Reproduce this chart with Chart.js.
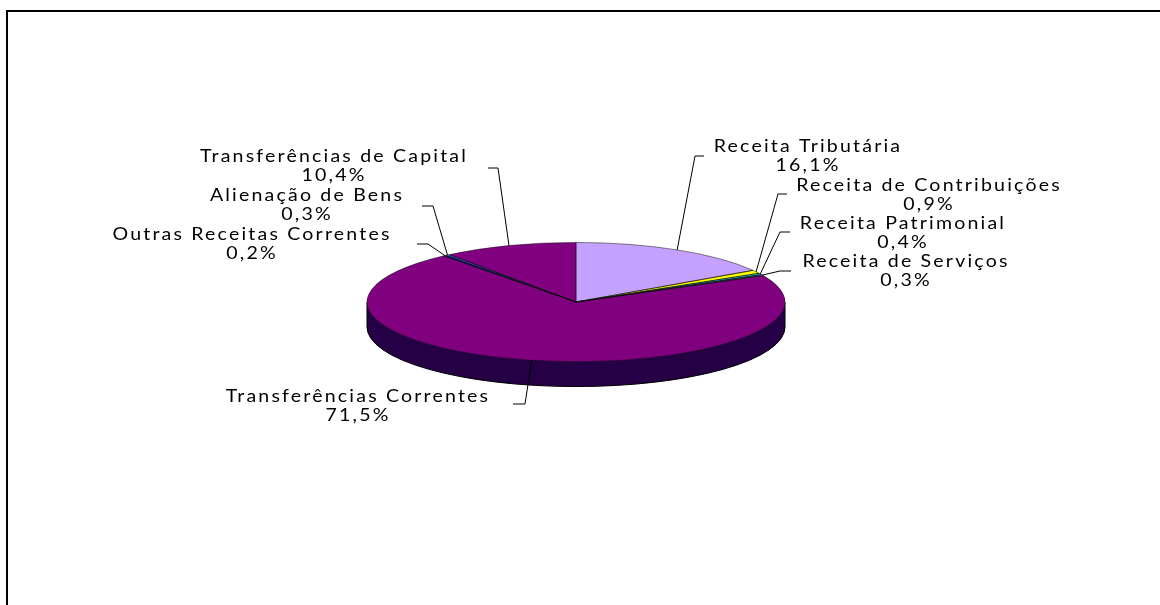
<!DOCTYPE html>
<html>
<head>
<meta charset="utf-8">
<script src="https://cdn.jsdelivr.net/npm/chart.js@4.4.0/dist/chart.umd.min.js"></script>
<style>
  html, body { margin: 0; padding: 0; background: #fff; }
  #wrap { width: 1160px; height: 605px; position: relative; }
</style>
</head>
<body>
<div id="wrap"><canvas id="myChart" width="1160" height="605"></canvas></div>
<script>
// dados
const categorias = ['Receita Tributária', 'Receita de Contribuições', 'Receita Patrimonial', 'Receita de Serviços',
                    'Transferências Correntes', 'Outras Receitas Correntes', 'Alienação de Bens', 'Transferências de Capital'];
const percentuais = [16.1, 0.9, 0.4, 0.3, 71.5, 0.2, 0.3, 10.4];
const rotulos = percentuais.map(v => v.toFixed(1).replace('.', ',') + '%');

// cores das fatias
const cores = ['#C4A0FF', '#FFFF00', '#33CCCC', '#008080', '#800080', '#000080', '#3366FF', '#800080'];

// posição dos rótulos: texto (x,y), cotovelo da linha (ex,ey), fim do traço (sx)
const posRotulos = [
  { x: 808, y: 147, ex: 695, ey: 156, sx: 704 },
  { x: 929, y: 186, ex: 778, ey: 194, sx: 787 },
  { x: 903, y: 224, ex: 780, ey: 232, sx: 790 },
  { x: 906, y: 262, ex: 780, ey: 271, sx: 791 },
  { x: 358, y: 397, ex: 525, ey: 404, sx: 513 },
  { x: 252, y: 235, ex: 428, ey: 244, sx: 417 },
  { x: 307, y: 196, ex: 433, ey: 206, sx: 422 },
  { x: 334, y: 157, ex: 498, ey: 168, sx: 488 }
];

const INCLINA = 0.285;   // achatamento vertical
const ALTURA = 25;       // espessura da "pizza"
const ESTICA = 1.15;     // texto um pouco esticado na horizontal

function escurecer(hex) {
  const n = parseInt(hex.slice(1), 16);
  const r = (n >> 16) & 255, g = (n >> 8) & 255, b = n & 255;
  return 'rgb(' + Math.round(r * 0.3) + ',' + Math.round(g * 0.3) + ',' + Math.round(b * 0.55) + ')';
}

function achatar(ctx, cy, dy) {
  ctx.translate(0, cy + dy);
  ctx.scale(1, INCLINA);
  ctx.translate(0, -cy);
}

const pizza3d = {
  id: 'pizza3d',
  beforeDraw(chart) {
    const ctx = chart.ctx;
    ctx.save();
    ctx.fillStyle = '#fff';
    ctx.fillRect(0, 0, chart.width, chart.height);
    // moldura
    ctx.strokeStyle = '#000';
    ctx.lineWidth = 2;
    ctx.strokeRect(7, 11, 1300, 800);
    ctx.restore();
  },
  beforeDatasetsDraw(chart) {
    const ctx = chart.ctx;
    const arcos = chart.getDatasetMeta(0).data;
    const cx = arcos[0].x, cy = arcos[0].y, r = arcos[0].outerRadius;
    // lateral
    for (let d = ALTURA; d >= 1; d--) {
      arcos.forEach((a, i) => {
        ctx.save();
        achatar(ctx, cy, d);
        ctx.beginPath();
        ctx.moveTo(cx, cy);
        ctx.arc(cx, cy, r, a.startAngle, a.endAngle);
        ctx.closePath();
        ctx.fillStyle = escurecer(cores[i]);
        ctx.fill();
        ctx.restore();
      });
    }
    // contorno da lateral
    ctx.save();
    ctx.strokeStyle = '#000';
    ctx.lineWidth = 1;
    ctx.beginPath();
    ctx.ellipse(cx, cy + ALTURA, r, r * INCLINA, 0, 0, Math.PI);
    ctx.stroke();
    ctx.beginPath();
    ctx.moveTo(cx - r, cy); ctx.lineTo(cx - r, cy + ALTURA);
    ctx.moveTo(cx + r, cy); ctx.lineTo(cx + r, cy + ALTURA);
    ctx.stroke();
    ctx.restore();
    // topo achatado (desenhado pelo Chart.js)
    ctx.save();
    achatar(ctx, cy, 0);
  },
  afterDatasetsDraw(chart) {
    const ctx = chart.ctx;
    ctx.restore();
    const arcos = chart.getDatasetMeta(0).data;
    const cx = arcos[0].x, cy = arcos[0].y, r = arcos[0].outerRadius;
    ctx.strokeStyle = '#111';
    ctx.lineWidth = 0.5;
    arcos.forEach(a => {
      ctx.save();
      achatar(ctx, cy, 0);
      ctx.beginPath();
      ctx.moveTo(cx, cy);
      ctx.arc(cx, cy, r, a.startAngle, a.endAngle);
      ctx.closePath();
      ctx.restore();
      ctx.stroke();
    });
  },
  afterDraw(chart) {
    const ctx = chart.ctx;
    const arcos = chart.getDatasetMeta(0).data;
    const cx = arcos[0].x, cy = arcos[0].y, r = arcos[0].outerRadius;
    ctx.save();
    ctx.strokeStyle = '#000';
    ctx.lineWidth = 1;
    ctx.fillStyle = '#000';
    ctx.font = '17px Lato';
    ctx.letterSpacing = '1.9px';
    ctx.textAlign = 'center';
    ctx.textBaseline = 'middle';
    arcos.forEach((a, i) => {
      const p = posRotulos[i];
      const meio = (a.startAngle + a.endAngle) / 2;
      const ax = cx + r * Math.cos(meio);
      const ay = cy + r * Math.sin(meio) * INCLINA;
      ctx.beginPath();
      ctx.moveTo(ax, ay);
      ctx.lineTo(p.ex, p.ey);
      ctx.lineTo(p.sx, p.ey);
      ctx.stroke();
      [categorias[i], rotulos[i]].forEach((t, k) => {
        ctx.save();
        ctx.translate(p.x, p.y + k * 18.5);
        ctx.scale(ESTICA, 1);
        ctx.fillText(t, 0, 0);
        ctx.restore();
      });
    });
    ctx.restore();
  }
};

const chartArea = document.getElementById('myChart').getContext('2d');
const myChart = new Chart(chartArea, {
  type: 'pie',
  data: {
    labels: categorias,
    datasets: [{
      data: percentuais,
      backgroundColor: cores,
      borderWidth: 0,
      radius: 209,
      clip: false
    }]
  },
  options: {
    responsive: false,
    animation: false,
    events: [],
    layout: { padding: { left: 367, right: 375, top: 93, bottom: 94 } },
    plugins: {
      legend: { display: false },
      tooltip: { enabled: false }
    }
  },
  plugins: [pizza3d]
});
</script>
</body>
</html>
